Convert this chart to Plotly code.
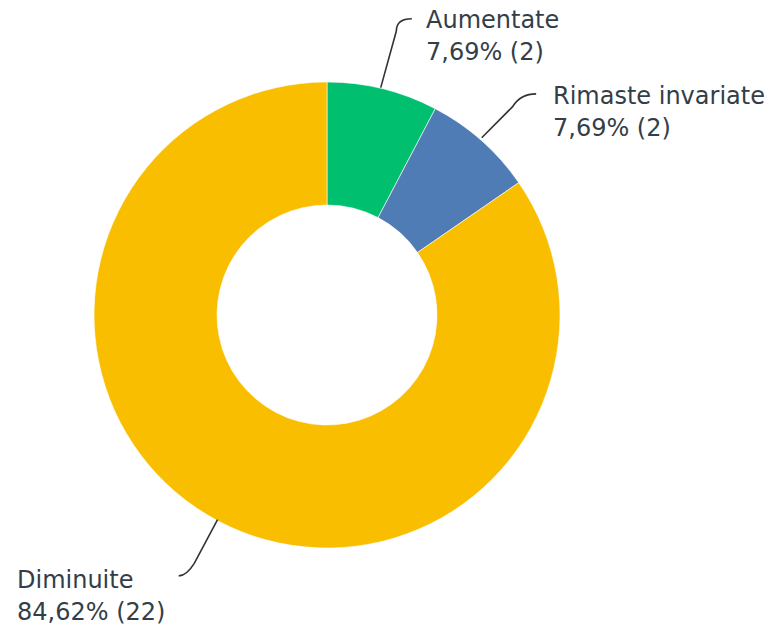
import math
import plotly.graph_objects as go

# Survey answers
labels = ["Aumentate", "Rimaste invariate", "Diminuite"]
counts = [2, 2, 22]
colors = ["#00BF6F", "#507CB6", "#F9BE00"]

W, H = 777, 626
CX, CY, R = 327, 315, 233          # donut centre / outer radius in pixels
HOLE = 0.472

# leader geometry per slice: (distance of the elbow beyond the rim, hook length, side)
leader = [(72, 8, 1), (61, 13, 1), (65, 10, -1)]
TEXT_GAP = 17
LINE_STEP = 32
TEXT_COLOR = "#333e48"
FONT = "DejaVu Sans"


def px(x):
    return x / W


def py(y):
    return 1 - y / H


total = sum(counts)

fig = go.Figure(go.Pie(
    labels=labels,
    values=counts,
    marker=dict(colors=colors, line=dict(color="white", width=0.6)),
    sort=False,
    direction="clockwise",
    rotation=0,
    hole=HOLE,
    textinfo="none",
    showlegend=False,
    domain=dict(x=[px(CX - R), px(CX + R)], y=[py(CY + R), py(CY - R)]),
))

shapes = []
annotations = []
start = 0.0
for lab, c, (elbow, hook, side) in zip(labels, counts, leader):
    frac = c / total
    mid = (start + frac / 2) * 2 * math.pi
    start += frac
    ux, uy = math.sin(mid), -math.cos(mid)
    p0 = (CX + R * ux, CY + R * uy)
    p1 = (CX + (R + elbow - 16) * ux, CY + (R + elbow - 16) * uy)
    pc = (CX + (R + elbow) * ux, CY + (R + elbow) * uy)
    p2 = (pc[0] + side * hook, pc[1])
    path = "M {:.2f},{:.2f} L {:.2f},{:.2f} Q {:.2f},{:.2f} {:.2f},{:.2f}".format(
        px(p0[0]), py(p0[1]), px(p1[0]), py(p1[1]),
        px(pc[0]), py(pc[1]), px(p2[0]), py(p2[1]))
    shapes.append(dict(type="path", xref="paper", yref="paper", path=path,
                       line=dict(color="#333333", width=1.6)))
    pct = f"{frac * 100:.2f}".replace(".", ",")
    lines = [lab, f"{pct}% ({c})"]
    # left-side labels sit against the left edge, right-side ones after the hook
    x0 = 16 if side < 0 else p2[0] + TEXT_GAP
    for i, line in enumerate(lines):
        annotations.append(dict(
            xref="paper", yref="paper",
            x=px(x0), y=py(p2[1] + 1 + i * LINE_STEP),
            xanchor="left", yanchor="middle",
            showarrow=False, borderpad=0,
            text=line,
            font=dict(family=FONT, size=24, color=TEXT_COLOR),
        ))

fig.update_layout(
    width=W, height=H,
    margin=dict(l=0, r=0, t=0, b=0),
    paper_bgcolor="white",
    plot_bgcolor="white",
    shapes=shapes,
    annotations=annotations,
)

fig.write_html("out.html")
